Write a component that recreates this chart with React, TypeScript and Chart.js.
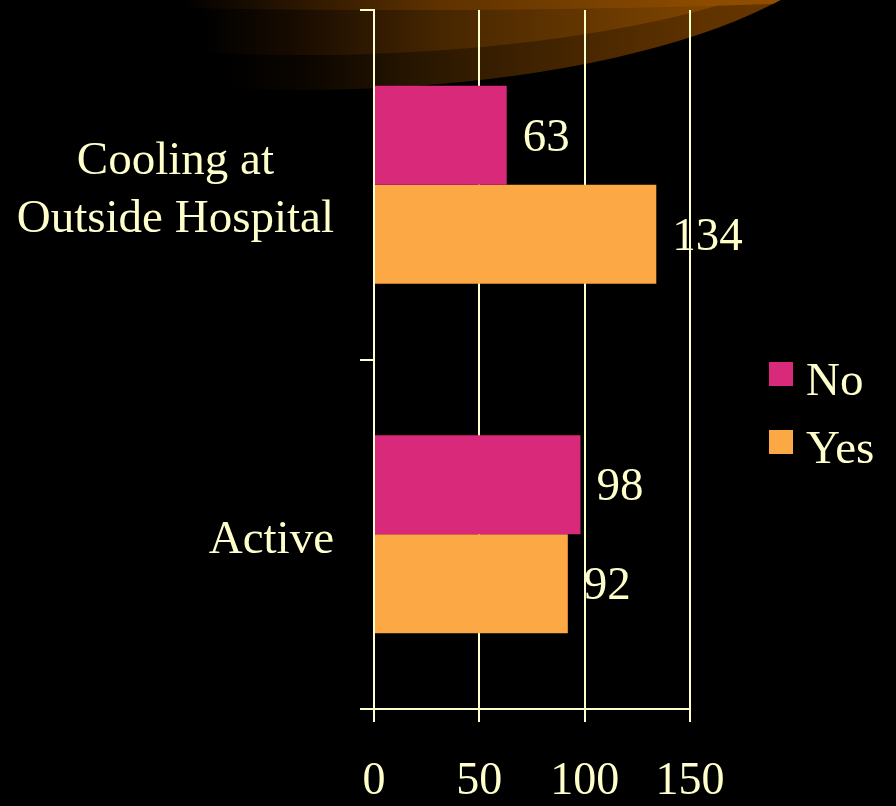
import React, { useEffect, useRef } from "react";
import { Chart, registerables } from "chart.js";

Chart.register(...registerables);

const categories: (string | string[])[] = [["Cooling at", "Outside Hospital"], "Active"];
const seriesNames = ["No", "Yes"];
const noValues = [63, 98];
const yesValues = [134, 92];
const xTicks = [0, 50, 100, 150];

const CREAM = "#FFFFCC";
const PINK = "#D8297A";
const ORANGE = "#FCA845";
const FONT = "'Liberation Serif', 'Times New Roman', serif";

function grad(ctx: CanvasRenderingContext2D, stops: [number, string][]) {
  const x0 = stops[0][0];
  const x1 = stops[stops.length - 1][0];
  const g = ctx.createLinearGradient(x0, 0, x1, 0);
  stops.forEach(([x, c]) => g.addColorStop((x - x0) / (x1 - x0), c));
  return g;
}

const swooshPlugin = {
  id: "swoosh",
  beforeDraw(chart: any) {
    const ctx = chart.ctx as CanvasRenderingContext2D;
    ctx.save();
    ctx.fillStyle = "#000";
    ctx.fillRect(0, 0, chart.width, chart.height);
    // outer band
    ctx.beginPath();
    ctx.ellipse(300, -100, 565, 190, 0, 0, Math.PI * 2);
    ctx.fillStyle = grad(ctx, [
      [220, "rgb(0,0,0)"],
      [300, "rgb(10,5,0)"],
      [440, "rgb(45,25,0)"],
      [700, "rgb(95,50,0)"],
      [790, "rgb(105,55,0)"],
    ]);
    ctx.fill();
    ctx.clip();
    // middle band
    ctx.beginPath();
    ctx.ellipse(305, -125, 600, 180, 0, 0, Math.PI * 2);
    ctx.fillStyle = grad(ctx, [
      [200, "rgb(0,0,0)"],
      [300, "rgb(25,12,0)"],
      [440, "rgb(70,38,0)"],
      [700, "rgb(125,68,0)"],
      [790, "rgb(135,72,0)"],
    ]);
    ctx.fill();
    // top band
    ctx.beginPath();
    ctx.ellipse(400, -300, 1900, 310, 0, 0, Math.PI * 2);
    ctx.fillStyle = grad(ctx, [
      [180, "rgb(0,0,0)"],
      [250, "rgb(25,13,0)"],
      [440, "rgb(95,50,0)"],
      [700, "rgb(140,75,0)"],
      [790, "rgb(145,78,0)"],
    ]);
    ctx.fill();
    ctx.restore();
  },
};

const categoryLabelsPlugin = {
  id: "categoryLabels",
  afterDraw(chart: any) {
    const ctx = chart.ctx as CanvasRenderingContext2D;
    const yScale = chart.scales.y;
    ctx.save();
    ctx.fillStyle = CREAM;
    ctx.font = `47px ${FONT}`;
    ctx.textBaseline = "alphabetic";
    ctx.textAlign = "center";
    const right = 334;
    const lineH = 58;
    (chart.data.labels as any[]).forEach((lab: any, i: number) => {
      const lines: string[] = Array.isArray(lab) ? lab : [lab];
      const widest = Math.max(...lines.map((l) => ctx.measureText(l).width));
      const cx = right - widest / 2;
      const cy = yScale.getPixelForTick(i);
      lines.forEach((l, k) => {
        const y = cy + 18.5 + (k - (lines.length - 1) / 2) * lineH;
        ctx.fillText(l, cx, y);
      });
    });
    ctx.restore();
  },
};

const labelsPlugin = {
  id: "valueLabels",
  afterDatasetsDraw(chart: any) {
    const ctx = chart.ctx as CanvasRenderingContext2D;
    ctx.save();
    ctx.fillStyle = CREAM;
    ctx.font = `47px ${FONT}`;
    ctx.textAlign = "left";
    ctx.textBaseline = "middle";
    chart.data.datasets.forEach((ds: any, i: number) => {
      const meta = chart.getDatasetMeta(i);
      meta.data.forEach((el: any, j: number) => {
        ctx.fillText(String(ds.data[j]), el.x + 16, el.y + 3);
      });
    });
    ctx.restore();
  },
};

const legendPlugin = {
  id: "customLegend",
  afterDraw(chart: any) {
    const ctx = chart.ctx as CanvasRenderingContext2D;
    ctx.save();
    ctx.font = `47px ${FONT}`;
    ctx.textAlign = "left";
    ctx.textBaseline = "alphabetic";
    chart.data.datasets.forEach((ds: any, i: number) => {
      const top = 362 + i * 68;
      ctx.fillStyle = ds.backgroundColor;
      ctx.fillRect(769, top, 24, 24);
      ctx.fillStyle = CREAM;
      ctx.fillText(ds.label, 806, top + 33);
    });
    ctx.restore();
  },
};

export default function App() {
  const ref = useRef<HTMLCanvasElement | null>(null);
  useEffect(() => {
    if (!ref.current) return;
    const chart = new Chart(ref.current, {
      type: "bar",
      data: {
        labels: categories as any,
        datasets: [
          { label: seriesNames[0], data: noValues, backgroundColor: PINK, borderWidth: 0 },
          { label: seriesNames[1], data: yesValues, backgroundColor: ORANGE, borderWidth: 0 },
        ],
      },
      options: {
        indexAxis: "y",
        animation: false,
        responsive: false,
        events: [],
        layout: { padding: { left: 0, right: 206, top: 10, bottom: 0 } },
        datasets: { bar: { categoryPercentage: 0.567, barPercentage: 1 } },
        plugins: { legend: { display: false }, tooltip: { enabled: false } },
        scales: {
          x: {
            min: 0,
            max: 150,
            afterBuildTicks: (s: any) => {
              s.ticks = xTicks.map((v) => ({ value: v }));
            },
            afterFit: (s: any) => {
              s.height = 97;
              s.paddingLeft = 0;
              s.paddingRight = 0;
            },
            grid: { color: CREAM, lineWidth: 2, tickLength: 13, drawTicks: true },
            border: { color: CREAM, width: 2 },
            ticks: { color: CREAM, font: { family: FONT, size: 46 }, padding: 32, maxRotation: 0 },
          },
          y: {
            afterFit: (s: any) => {
              s.width = 374;
              s.paddingTop = 0;
              s.paddingBottom = 0;
            },
            grid: { display: true, drawOnChartArea: false, color: CREAM, lineWidth: 2, tickLength: 14, offset: true },
            border: { color: CREAM, width: 2 },
            ticks: { display: false },
          },
        },
      },
      plugins: [swooshPlugin, labelsPlugin, categoryLabelsPlugin, legendPlugin],
    });
    return () => chart.destroy();
  }, []);
  return (
    <div style={{ position: "absolute", left: 0, top: 0, width: 896, height: 806, background: "#000" }}>
      <canvas ref={ref} width={896} height={806} style={{ display: "block" }} />
    </div>
  );
}
